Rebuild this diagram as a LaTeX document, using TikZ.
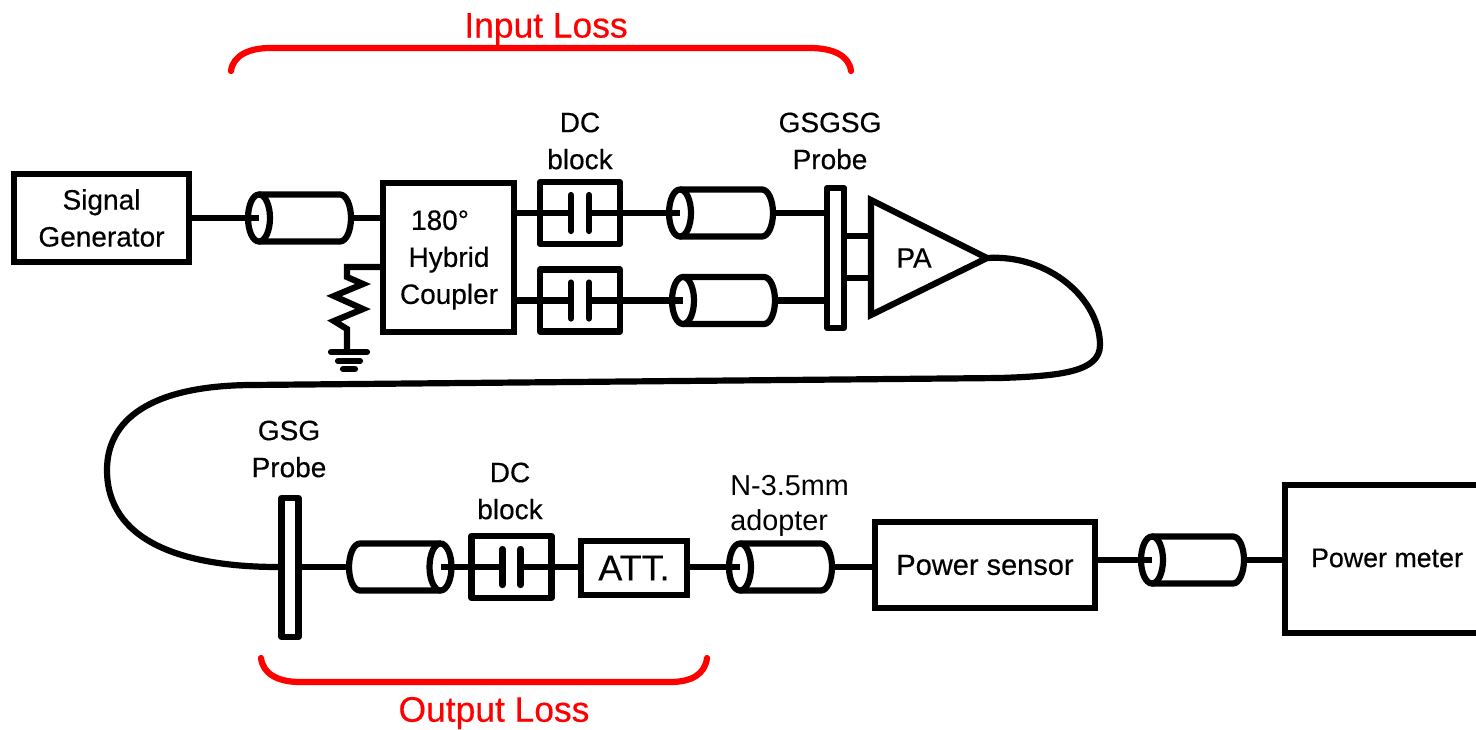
\documentclass[tikz,border=0pt]{standalone}
\usepackage{fontspec}
\setmainfont[FakeBold=0.4]{Liberation Sans}
\newfontfamily\plainfont{Liberation Sans}
\usepackage{tikz}
\usetikzlibrary{calc}

\newcommand{\coaxring}[4]{% ring on the left: name, left, right, y
  \node[port, minimum width={(#3-#2)*0.5pt}] (#1) at ({(#2+#3)/2},#4) {};
  \draw[wire] (#1.north west) -- ([xshift=-5.5pt]#1.north east)
    arc[start angle=90, end angle=-90, x radius=5.5pt, y radius=11.75pt] -- (#1.south west);
  \draw[wire] (#1.west) ellipse[x radius=5.5pt, y radius=11.75pt];
}
\newcommand{\coaxback}[4]{% ring on the right
  \node[port, minimum width={(#3-#2)*0.5pt}] (#1) at ({(#2+#3)/2},#4) {};
  \draw[wire] (#1.north east) -- ([xshift=5.5pt]#1.north west)
    arc[start angle=90, end angle=270, x radius=5.5pt, y radius=11.75pt] -- (#1.south east);
  \draw[wire] (#1.east) ellipse[x radius=5.5pt, y radius=11.75pt];
}
\newcommand{\dcblock}[3]{% name, x, y
  \node[block] (#1) at (#2,#3) {};
  \draw[wire] (#1.west) -- ([xshift=-4.5pt]#1.center);
  \draw[wire] ([xshift=4.5pt]#1.center) -- (#1.east);
  \draw[plate] ([shift={(-4.5pt,9pt)}]#1.center) -- ([shift={(-4.5pt,-9pt)}]#1.center);
  \draw[plate] ([shift={(4.5pt,9pt)}]#1.center) -- ([shift={(4.5pt,-9pt)}]#1.center);
}

\begin{document}
\begin{tikzpicture}[
  x=0.5pt, y=-0.5pt,
  font=\fontsize{14}{18.5}\selectfont,
  wire/.style={line width=3.1pt},
  plate/.style={line width=3.1pt, line cap=round},
  box/.style={rectangle, draw, line width=3.1pt, align=center, inner sep=0pt},
  block/.style={box, line join=round, minimum width=40pt, minimum height=31pt},
  probe/.style={box, line join=round, minimum width=8.5pt},
  port/.style={rectangle, inner sep=0pt, outer sep=0pt, minimum height=23.5pt},
  label/.style={align=center, inner sep=0pt},
  loss/.style={label, text=red, font=\fontsize{17.7}{20}\selectfont},
  brace/.style={draw=red, line width=3.1pt, line cap=round}]
  \useasboundingbox (0,0) rectangle (1476,729);

  % first row
  \node[box, minimum width=87.5pt, minimum height=44pt] (sig) at (101.5,218) {Signal\\Generator};
  \coaxring{cin}{259}{351}{218}
  \node[box, minimum width=65.5pt, minimum height=74.5pt] (hyb) at (448.5,257.5) {};
  \node[label] (hybt) at (449,260) {\hspace*{-9pt}180°\\Hybrid\\Coupler};
  \dcblock{dca}{580}{213}
  \dcblock{dcb}{580}{300.5}
  \coaxring{cua}{680}{773}{213}
  \coaxring{cub}{683}{775}{300.5}
  \node[probe, minimum height=70pt] (pin) at (835.5,258) {};
  \coordinate (tip) at (987,258);
  \draw[wire] (871,200) -- (tip) -- (871,315) -- cycle;
  \node[label] (pa) at (914,258) {PA};

  % load on the coupler
  \coordinate (rtop) at (347,267);
  \coordinate (gnd) at (347,352);
  \draw[wire] (hyb.west |- rtop) -- (rtop) -- (347,277) -- (363,284) -- (334,296) -- (363,309)
    -- (334,321) -- (347,329) -- (gnd);
  \draw[plate] (331,352) -- (367,352);
  \draw[plate] (338,361) -- (360,361);
  \draw[plate] (343,369) -- (355,369);

  \draw[wire] (sig.east |- cin.west) -- (cin.west);
  \draw[wire] (cin.east) -- (hyb.west |- cin.east);
  \draw[wire] (hyb.east |- dca.west) -- (dca.west);
  \draw[wire] (hyb.east |- dcb.west) -- (dcb.west);
  \draw[wire] (dca.east) -- (cua.west);
  \draw[wire] (dcb.east) -- (cub.west);
  \draw[wire] (cua.east) -- (pin.west |- cua.east);
  \draw[wire] (cub.east) -- (pin.west |- cub.east);
  \draw[wire] (pin.east |- 0,236) -- (871,236);
  \draw[wire] (pin.east |- 0,278) -- (871,278);

  % second row
  \node[probe, minimum height=69.5pt] (pout) at (290,567.5) {};
  \coaxback{cdn}{349}{440.5}{567}
  \dcblock{dcc}{511.5}{567}
  \node[box, minimum width=53pt, minimum height=27pt, font=\fontsize{18}{20}\selectfont] (att) at (634,568) {ATT.};
  \coaxring{cad}{740}{832}{567}
  \node[box, minimum width=110pt, minimum height=43pt, font=\fontsize{14.5}{18}\selectfont] (sen) at (985,565) {Power sensor};
  \coaxring{cmt}{1152}{1244}{560}
  \node[box, minimum width=110pt, minimum height=74pt] (met) at (1395,559) {};
  \node[label, font=\fontsize{13.4}{18}\selectfont] (mett) at (1387,558) {Power meter};

  \draw[wire] (pout.east |- cdn.west) -- (cdn.west);
  \draw[wire] (cdn.east) -- (dcc.west);
  \draw[wire] (dcc.east) -- (att.west |- dcc.east);
  \draw[wire] (att.east |- cad.west) -- (cad.west);
  \draw[wire] (cad.east) -- (sen.west |- cad.east);
  \draw[wire] (sen.east |- cmt.west) -- (cmt.west);
  \draw[wire] (cmt.east) -- (met.west |- cmt.east);

  % long cable
  \draw[wire] (tip) .. controls (1050,254) and (1100,300) .. (1100,345)
    .. controls (1100,372) and (1060,376) .. (1000,378) -- (250,385)
    .. controls (150,386) and (107,420) .. (107,470)
    .. controls (107,540) and (180,567) .. (pout.west |- cdn.west);

  % labels
  \node[label] (ldca) at (580,141) {DC\\block};
  \node[label] (lpin) at (830,141) {GSGSG\\Probe};
  \node[label] (lpout) at (289,449) {GSG\\Probe};
  \node[label] (ldcc) at (510,491) {DC\\block};
  \node[label, anchor=west, align=left, font=\plainfont\fontsize{14.4}{17.5}\selectfont] (lad) at (730,506) {N-3.5mm\\adopter};

  % losses
  \node[loss] (lin) at (546,29) {Input Loss};
  \node[loss] (lout) at (494,713) {Output Loss};
  \draw[brace] (231,71) .. controls (233,55) and (250,48) .. (270,48) -- (810,48)
    .. controls (832,48) and (849,55) .. (851,71);
  \draw[brace] (261,658) .. controls (263,674) and (278,682) .. (300,682) -- (670,682)
    .. controls (692,682) and (705,674) .. (707,658);
\end{tikzpicture}
\end{document}
